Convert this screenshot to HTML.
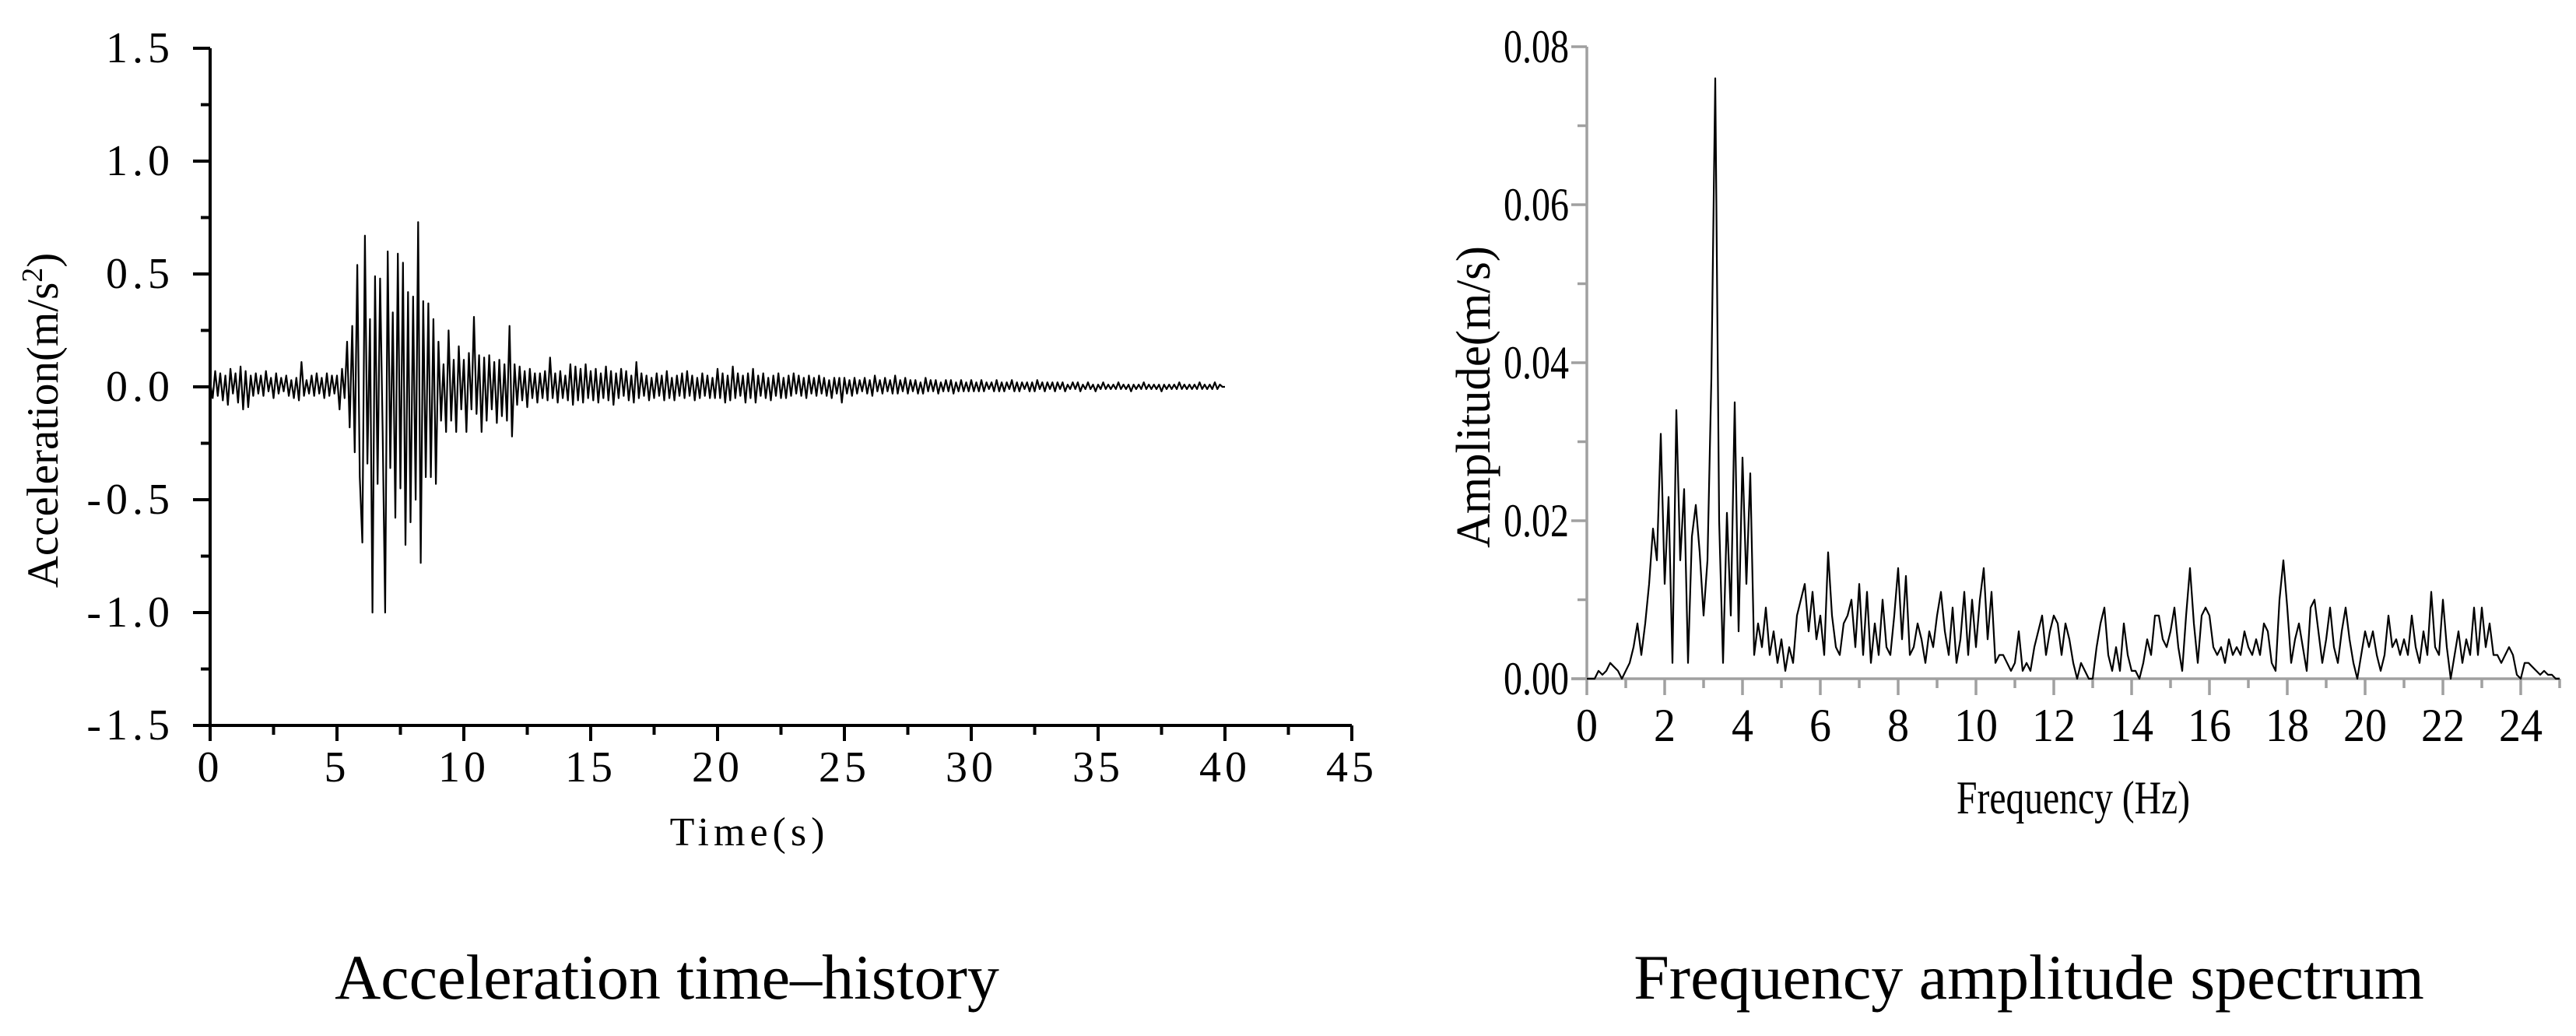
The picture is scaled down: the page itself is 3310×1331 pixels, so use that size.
<!DOCTYPE html>
<html><head><meta charset="utf-8">
<style>
html,body{margin:0;padding:0;background:#fff;}
svg{display:block;}
text{font-family:"Liberation Serif",serif;fill:#000;}
</style></head>
<body>
<svg id="fig" width="3310" height="1331" viewBox="0 0 3310 1331" xmlns="http://www.w3.org/2000/svg">
  <g id="left"></g>
  <g id="right"></g>
  <text x="857" y="1283" font-size="82" text-anchor="middle">Acceleration time–history</text>
  <text x="2607" y="1283" font-size="82" text-anchor="middle">Frequency amplitude spectrum</text>
</svg>
<script>
// ---- Acceleration time history data (dt = 0.1 s, starting at 0 s) ----
const accDt = 0.1;
const acc0to5 = [0.02,-0.05,0.07,-0.04,0.06,-0.06,0.05,-0.08,0.08,-0.03,0.06,-0.07,0.09,-0.1,0.07,-0.09,0.05,-0.04,0.06,-0.03,0.05,-0.04,0.07,-0.02,0.04,-0.05,0.06,-0.03,0.04,-0.02,0.05,-0.04,0.03,-0.05,0.04,-0.06,0.11,-0.04,0.03,-0.03,0.05,-0.04,0.06,-0.03,0.04,-0.05,0.06,-0.04,0.05,-0.03];
const acc5to10 = [0.05,-0.1,0.08,-0.05,0.2,-0.18,0.27,-0.29,0.54,-0.4,-0.69,0.67,-0.34,0.3,-1.0,0.49,-0.43,0.48,-0.2,-1.0,0.6,-0.36,0.33,-0.58,0.59,-0.45,0.55,-0.7,0.42,-0.6,0.4,-0.5,0.73,-0.78,0.38,-0.4,0.37,-0.4,0.3,-0.43,0.2,-0.15,0.1,-0.2,0.25,-0.15,0.12,-0.2,0.18,-0.1];
const acc10to15 = [0.12,-0.2,0.15,-0.1,0.31,-0.12,0.14,-0.2,0.13,-0.15,0.14,-0.1,0.11,-0.16,0.12,-0.13,0.1,-0.15,0.27,-0.22,0.1,-0.08,0.09,-0.06,0.07,-0.09,0.08,-0.05,0.06,-0.07,0.06,-0.05,0.07,-0.06,0.13,-0.05,0.06,-0.07,0.07,-0.05,0.05,-0.06,0.1,-0.08,0.09,-0.06,0.08,-0.07,0.1,-0.05];
const acc15to20 = [0.07,-0.06,0.08,-0.07,0.06,-0.05,0.09,-0.06,0.07,-0.08,0.06,-0.05,0.08,-0.04,0.07,-0.06,0.05,-0.07,0.11,-0.05,0.06,-0.04,0.05,-0.06,0.04,-0.05,0.06,-0.04,0.05,-0.06,0.07,-0.05,0.04,-0.06,0.05,-0.04,0.06,-0.05,0.07,-0.04,0.05,-0.06,0.04,-0.05,0.06,-0.04,0.05,-0.05,0.04,-0.05];
const acc20to25 = [0.08,-0.05,0.06,-0.07,0.05,-0.06,0.09,-0.05,0.06,-0.04,0.05,-0.07,0.06,-0.05,0.08,-0.07,0.05,-0.04,0.06,-0.05,0.04,-0.06,0.05,-0.04,0.06,-0.05,0.04,-0.05,0.05,-0.04,0.06,-0.03,0.05,-0.04,0.04,-0.05,0.05,-0.03,0.04,-0.04,0.05,-0.03,0.04,-0.04,0.03,-0.05,0.04,-0.03,0.04,-0.07];
const acc25to30 = [0.04,-0.03,0.03,-0.04,0.04,-0.03,0.03,-0.02,0.04,-0.03,0.03,-0.04,0.05,-0.02,0.03,-0.03,0.04,-0.02,0.03,-0.03,0.05,-0.03,0.03,-0.02,0.04,-0.03,0.03,-0.02,0.03,-0.03,0.02,-0.03,0.04,-0.02,0.03,-0.02,0.03,-0.03,0.02,-0.02,0.03,-0.02,0.03,-0.03,0.02,-0.02,0.03,-0.02,0.02,-0.02];
const acc30to35 = [0.03,-0.02,0.02,-0.02,0.03,-0.02,0.02,-0.01,0.02,-0.02,0.03,-0.02,0.02,-0.02,0.02,-0.01,0.03,-0.02,0.02,-0.02,0.02,-0.01,0.02,-0.02,0.02,-0.02,0.03,-0.01,0.02,-0.02,0.02,-0.01,0.02,-0.02,0.02,-0.01,0.02,-0.02,0.01,-0.01,0.02,-0.01,0.02,-0.02,0.01,-0.01,0.02,-0.01,0.01,-0.02];
const acc35to40 = [0.01,-0.01,0.02,-0.01,0.01,-0.01,0.01,-0.01,0.02,-0.01,0.01,-0.01,0.01,-0.02,0.01,-0.01,0.01,-0.01,0.02,-0.01,0.01,-0.01,0.01,-0.01,0.01,-0.02,0.01,-0.01,0.01,-0.01,0.01,-0.01,0.02,-0.01,0.01,-0.01,0.01,-0.01,0.01,-0.01,0.02,-0.01,0.01,-0.01,0.01,-0.01,0.02,-0.01,0.01,0.0,0.0];
const accXTicks = [0,5,10,15,20,25,30,35,40,45];
const accYTicks = [-1.5,-1.0,-0.5,0.0,0.5,1.0,1.5];
const accYLabels = ["-1.5","-1.0","-0.5","0.0","0.5","1.0","1.5"];

// ---- Spectrum data (df = 0.1 Hz, starting at 0 Hz) ----
const specDf = 0.1;
const spec0to5 = [0,0,0,0.001,0.0005,0.001,0.002,0.0015,0.001,0,
 0.001,0.002,0.004,0.007,0.003,0.007,0.012,0.019,0.015,0.031,
 0.012,0.023,0.002,0.034,0.015,0.024,0.002,0.018,0.022,0.016,
 0.008,0.015,0.038,0.076,0.02,0.002,0.021,0.008,0.035,0.006,
 0.028,0.012,0.026,0.003,0.007,0.004,0.009,0.003,0.006,0.002];
const spec5to10 = [0.005,0.001,0.004,0.002,0.008,0.01,0.012,0.006,0.011,0.005,
 0.008,0.003,0.016,0.008,0.004,0.003,0.007,0.008,0.01,0.004,
 0.012,0.003,0.011,0.002,0.007,0.003,0.01,0.004,0.003,0.008,
 0.014,0.005,0.013,0.003,0.004,0.007,0.005,0.002,0.006,0.004,
 0.008,0.011,0.006,0.003,0.009,0.002,0.005,0.011,0.003,0.01];
const spec10to15 = [0.004,0.01,0.014,0.005,0.011,0.002,0.003,0.003,0.002,0.001,
 0.002,0.006,0.001,0.002,0.001,0.004,0.006,0.008,0.003,0.006,
 0.008,0.007,0.003,0.007,0.005,0.002,0.0,0.002,0.001,0.0,
 0.0,0.004,0.007,0.009,0.003,0.001,0.004,0.001,0.007,0.003,
 0.001,0.001,0.0,0.002,0.005,0.003,0.008,0.008,0.005,0.004];
const spec15to20 = [0.006,0.009,0.004,0.001,0.008,0.014,0.007,0.002,0.008,0.009,
 0.008,0.004,0.003,0.004,0.002,0.005,0.003,0.004,0.003,0.006,
 0.004,0.003,0.005,0.003,0.007,0.006,0.002,0.001,0.01,0.015,
 0.009,0.002,0.005,0.007,0.004,0.001,0.009,0.01,0.006,0.002,
 0.005,0.009,0.004,0.002,0.006,0.009,0.005,0.002,0.0,0.003];
const spec20to25 = [0.006,0.004,0.006,0.003,0.001,0.003,0.008,0.004,0.005,0.003,
 0.005,0.003,0.008,0.004,0.002,0.006,0.003,0.011,0.004,0.003,
 0.01,0.004,0.0,0.003,0.006,0.002,0.005,0.003,0.009,0.003,
 0.009,0.004,0.007,0.003,0.003,0.002,0.003,0.004,0.003,0.0005,
 0.0,0.002,0.002,0.0015,0.001,0.0005,0.001,0.0005,0.0005,0.0,0.0];
const specXTicks = [0,2,4,6,8,10,12,14,16,18,20,22,24];
const specYTicks = [0,0.02,0.04,0.06,0.08];
const specYLabels = ["0.00","0.02","0.04","0.06","0.08"];

const NS = "http://www.w3.org/2000/svg";
function mk(tag, attrs, parent){
  const e = document.createElementNS(NS, tag);
  for (const k in attrs) e.setAttribute(k, attrs[k]);
  parent.appendChild(e);
  return e;
}

// ===== Left chart =====
(function(){
  const g = document.getElementById('left');
  const X0=270, X1=1737, Y0=932, Y1=62;
  const xs = t => X0 + (t-0)/(45-0)*(X1-X0);
  const ys = v => Y0 - (v+1.5)/3*(Y0-Y1);
  const acc = [].concat(acc0to5,acc5to10,acc10to15,acc15to20,acc20to25,acc25to30,acc30to35,acc35to40);
  let d = "";
  acc.forEach((v,i)=>{ d += (i?"L":"M") + xs(i*accDt).toFixed(1) + " " + ys(v).toFixed(1); });
  const line = mk('path',{d:d,fill:'none',stroke:'#000','stroke-width':2.2,'stroke-linejoin':'round'},g);
  
  
  const ax = mk('g',{},g);
  
  
  mk('line',{x1:X0,y1:Y1,x2:X0,y2:Y0,stroke:'#000','stroke-width':4},ax);
  mk('line',{x1:X0-22,y1:Y0,x2:X1,y2:Y0,stroke:'#000','stroke-width':4},ax);
  accYTicks.forEach((v,i)=>{
    const y = ys(v);
    mk('line',{x1:X0-22,y1:y,x2:X0,y2:y,stroke:'#000','stroke-width':4},ax);
    if (i < accYTicks.length-1) {
      const ym = ys(v+0.25);
      mk('line',{x1:X0-12,y1:ym,x2:X0,y2:ym,stroke:'#000','stroke-width':4},ax);
    }
    const t = mk('text',{x:224,y:y+18,'font-size':56,'text-anchor':'end','letter-spacing':6},ax);
    t.textContent = accYLabels[i];
    
    
  });
  accXTicks.forEach((v,i)=>{
    const x = xs(v);
    mk('line',{x1:x,y1:Y0,x2:x,y2:Y0+20,stroke:'#000','stroke-width':4},ax);
    if (i < accXTicks.length-1) {
      const xm = xs(v+2.5);
      mk('line',{x1:xm,y1:Y0,x2:xm,y2:Y0+12,stroke:'#000','stroke-width':4},ax);
    }
    const t = mk('text',{x:x,y:1004,'font-size':56,'text-anchor':'middle','letter-spacing':5},ax);
    t.textContent = String(v);
    
    
  });
  const xt = mk('text',{x:963,y:1086,'font-size':52,'text-anchor':'middle','letter-spacing':6},g);
  xt.textContent = "Time(s)";
  
  
  const yt = mk('text',{x:0,y:0,'font-size':57,'text-anchor':'middle',transform:'translate(74,540) rotate(-90)'},g);
  yt.innerHTML = 'Acceleration(m/s<tspan dy="-20" font-size="38">2</tspan><tspan dy="20">)</tspan>';
  
  
})();

// ===== Right chart =====
(function(){
  const g = document.getElementById('right');
  const X0=2039, X1=3289, Y0=872, Y1=60;
  const xs = f => X0 + f/25*(X1-X0);
  const ys = v => Y0 - v/0.08*(Y0-Y1);
  const spec = [].concat(spec0to5,spec5to10,spec10to15,spec15to20,spec20to25);
  const ax = mk('g',{},g);
  
  
  const gc = '#a0a0a0';
  mk('line',{x1:X0,y1:Y1,x2:X0,y2:Y0,stroke:gc,'stroke-width':3.5},ax);
  mk('line',{x1:X0-20,y1:Y0,x2:X1,y2:Y0,stroke:gc,'stroke-width':3.5},ax);
  specYTicks.forEach((v,i)=>{
    const y = ys(v);
    mk('line',{x1:X0-20,y1:y,x2:X0,y2:y,stroke:gc,'stroke-width':3.5},ax);
    if (i < specYTicks.length-1) {
      const ym = ys(v+0.01);
      mk('line',{x1:X0-12,y1:ym,x2:X0,y2:ym,stroke:gc,'stroke-width':3.5},ax);
    }
    const t = mk('text',{x:2016,y:y+20,'font-size':60,'text-anchor':'end',textLength:84,lengthAdjust:'spacingAndGlyphs'},ax);
    t.textContent = specYLabels[i];
    
    
  });
  specXTicks.forEach((v,i)=>{
    const x = xs(v);
    mk('line',{x1:x,y1:Y0,x2:x,y2:Y0+21,stroke:gc,'stroke-width':3.5},ax);
    const xm = xs(v+1);
    mk('line',{x1:xm,y1:Y0,x2:xm,y2:Y0+12,stroke:gc,'stroke-width':3.5},ax);
    const w = String(v).length > 1 ? 56 : 28;
    const t = mk('text',{x:x,y:952,'font-size':60,'text-anchor':'middle',textLength:w,lengthAdjust:'spacingAndGlyphs'},ax);
    t.textContent = String(v);
    
    
  });
  let d = "";
  spec.forEach((v,i)=>{ d += (i?"L":"M") + xs(i*specDf).toFixed(1) + " " + ys(v).toFixed(1); });
  const line = mk('path',{d:d,fill:'none',stroke:'#000','stroke-width':2.2,'stroke-linejoin':'round'},g);
  
  
  const xt = mk('text',{x:2664,y:1045,'font-size':60,'text-anchor':'middle',textLength:300,lengthAdjust:'spacingAndGlyphs'},g);
  xt.textContent = "Frequency (Hz)";
  
  
  const yt = mk('text',{x:0,y:0,'font-size':62,'text-anchor':'middle',textLength:388,lengthAdjust:'spacingAndGlyphs',transform:'translate(1914,510) rotate(-90)'},g);
  yt.textContent = "Amplitude(m/s)";
  
  
})();
</script>
</body></html>
